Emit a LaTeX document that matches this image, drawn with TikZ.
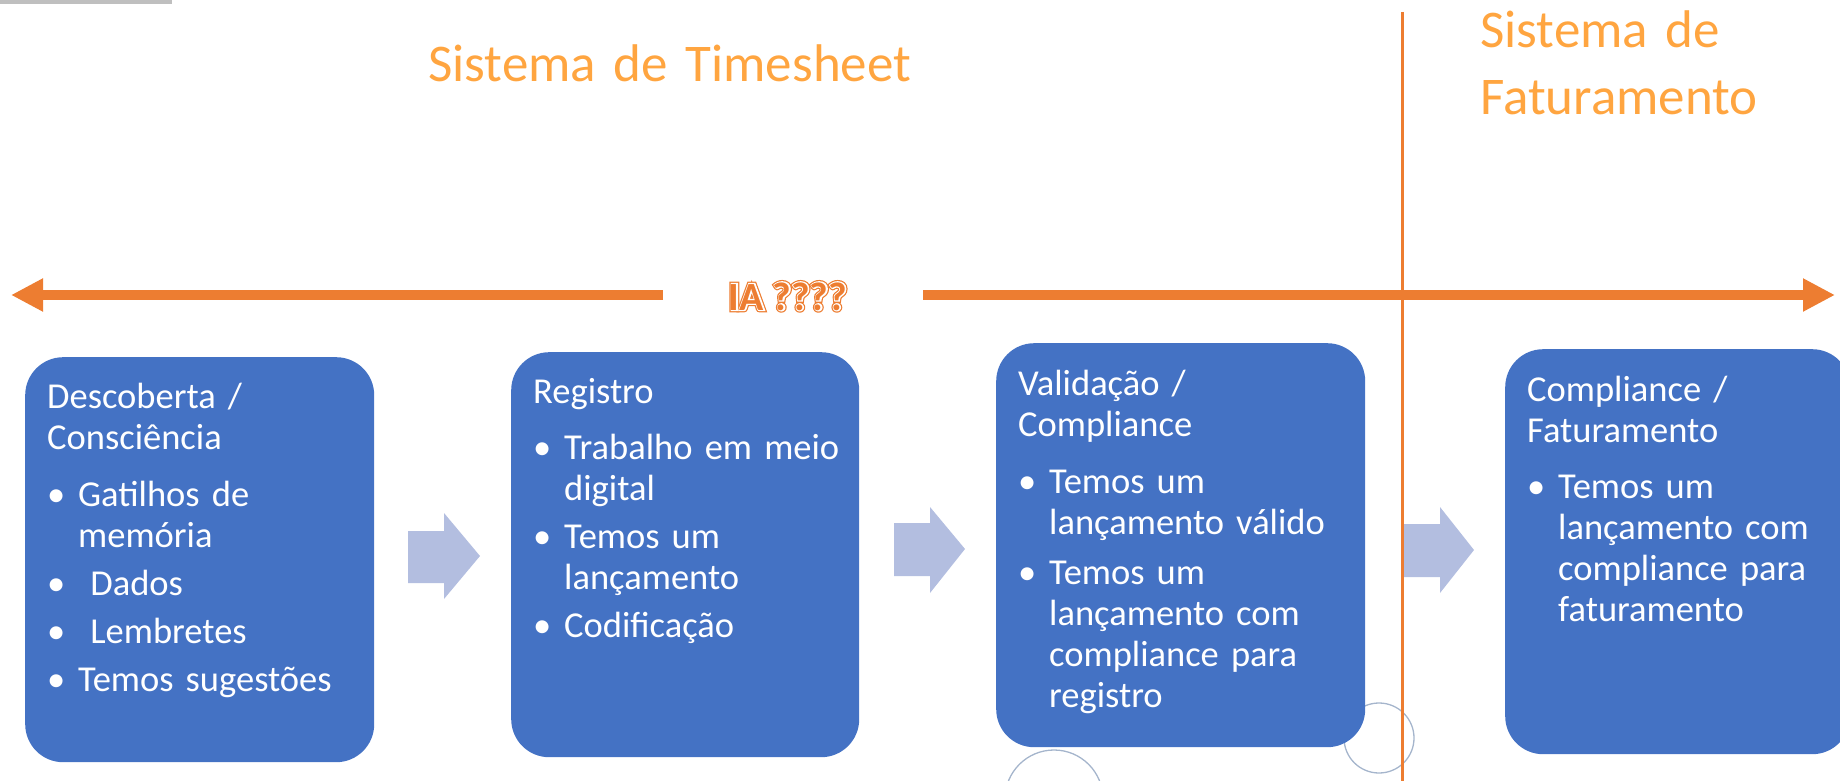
\documentclass[tikz,border=0pt]{standalone}
\usepackage{fontspec}
\setmainfont{Carlito}
\newfontfamily\iaouter[FakeBold=12]{Carlito Bold}
\newfontfamily\iainner[FakeBold=6]{Carlito Bold}
\newfontfamily\iaplain{Carlito Bold}
\usetikzlibrary{arrows.meta}
\definecolor{boxblue}{HTML}{4472C4}
\definecolor{lineorange}{HTML}{ED7D31}
\definecolor{titleorange}{HTML}{FFA540}
\definecolor{arrowblue}{HTML}{B3BEE0}
\definecolor{circlecol}{HTML}{A5B5CC}
\definecolor{graybar}{HTML}{BFBFBF}
\newcommand{\bul}{\makebox[31pt][l]{•}}
\newcommand{\ind}{\hspace*{31pt}}
\begin{document}
\begin{tikzpicture}[x=1pt,y=-1pt,
  box/.style={fill=boxblue, rounded corners=38pt, anchor=north west, inner sep=0pt},
  boxtext/.style={anchor=base west, inner sep=0pt, text width=340pt, align=left, text=white, font=\fontsize{36.5}{41}\selectfont},
  blockarr/.style={fill=arrowblue},
  title/.style={anchor=base west, inner sep=0pt, text width=700pt, align=left, text=titleorange, font=\fontsize{53}{67}\selectfont},
  bigarrow/.style={draw=lineorange, line width=10pt, -{Triangle[length=32pt,width=31pt]}},
  ring/.style={circle, draw=circlecol, line width=1.3pt, inner sep=0pt},
  iatext/.style={inner sep=0pt, anchor=base}]
\useasboundingbox (0,0) rectangle (1840,781);
\clip (0,0) rectangle (1840,781);

% gray bar
\node[fill=graybar, anchor=north west, minimum width=172pt, minimum height=4pt, inner sep=0pt] (bar) at (0,0) {};

% titles
\node[title] (ts) at (428,82) {Sistema de Timesheet};
\node[title] (fs) at (1480,48) {Sistema de\\Faturamento};

% circles
\node[ring, minimum size=98pt] (c1) at (1054,799) {};
\node[ring, minimum size=70pt] (c2) at (1379,738) {};

% horizontal arrows
\coordinate (hl) at (11,295);
\coordinate (hlend) at (663,295);
\coordinate (hrstart) at (923,295);
\coordinate (hr) at (1835,295);
\draw[bigarrow] (hlend) -- (hl);
\draw[bigarrow] (hrstart) -- (hr);

% vertical line
\coordinate (vtop) at (1402,12);
\coordinate (vbot) at (1402,781);
\draw[lineorange, line width=3pt] (vtop) -- (vbot);

% IA ????
\coordinate (iac) at (788,310);
\node[iatext, text=lineorange, font=\fontsize{40}{48}\iaouter] (iao) at (iac) {IA ????};
\node[iatext, text=white, font=\fontsize{40}{48}\iainner] (iai) at (iac) {IA ????};
\node[iatext, text=lineorange, font=\fontsize{40}{48}\iaplain] (ia) at (iac) {IA ????};

% boxes
\node[box, minimum width=349pt, minimum height=405pt] (b1) at (25,357) {};
\node[box, minimum width=348pt, minimum height=405pt] (b2) at (511,352) {};
\node[box, minimum width=369pt, minimum height=404pt] (b3) at (996,343) {};
\node[box, minimum width=345pt, minimum height=405pt] (b4) at (1505,349) {};

% block arrows
\fill[blockarr] (408,531) -- (444,531) -- (444,513) -- (480,556) -- (444,599) -- (444,583) -- (408,583) -- cycle;
\fill[blockarr] (894,523) -- (930,523) -- (930,507) -- (965,549) -- (930,593) -- (930,576) -- (894,576) -- cycle;
\fill[blockarr] (1404,524) -- (1440,524) -- (1440,507) -- (1474,550) -- (1440,593) -- (1440,577) -- (1404,577) -- cycle;

% box texts
\node[boxtext] (t1) at (47,408) {Descoberta /\\Consciência\\[16pt]
\bul Gatilhos de\\ \ind memória\\[7pt]
\bul\ Dados\\[7pt]
\bul\ Lembretes\\[7pt]
\bul Temos sugestões};

\node[boxtext] (t2) at (533,403) {Registro\\[15pt]
\bul Trabalho em meio\\ \ind digital\\[7pt]
\bul Temos um\\ \ind lançamento\\[7pt]
\bul Codificação};

\node[boxtext] (t3) at (1018,395) {Validação /\\Compliance\\[16pt]
\bul Temos um\\ \ind lançamento válido\\[9pt]
\bul Temos um\\ \ind lançamento com\\ \ind compliance para\\ \ind registro};

\node[boxtext] (t4) at (1527,401) {Compliance /\\Faturamento\\[15pt]
\bul Temos um\\ \ind lançamento com\\ \ind compliance para\\ \ind faturamento};
\end{tikzpicture}
\end{document}
